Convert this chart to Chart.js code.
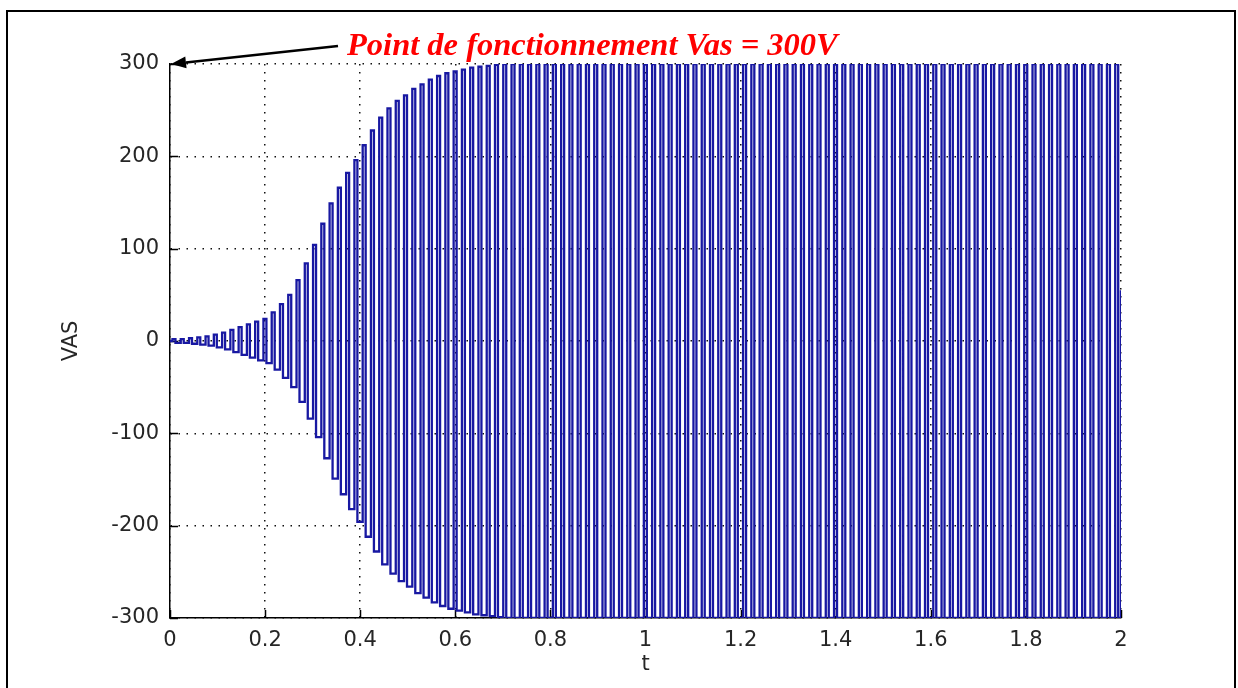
<!DOCTYPE html>
<html>
<head>
<meta charset="utf-8">
<script src="https://cdn.jsdelivr.net/npm/chart.js@4.4.1/dist/chart.umd.min.js"></script>
<style>
  html, body { margin: 0; padding: 0; background: #fff; overflow: hidden; }
  #wrap { position: relative; width: 1238px; height: 688px; }
  #plot { position: absolute; left: 0; top: 0; }
  #frame { position: absolute; left: 6px; top: 10px; width: 1230px; height: 700px;
           border: 2px solid #000; box-sizing: border-box; pointer-events: none; }
</style>
</head>
<body>
<div id="wrap">
  <canvas id="plot" width="1238" height="688"></canvas>
  <div id="frame"></div>
</div>
<script>
// Stator voltage VAS: crest amplitude of each oscillation cycle over 0..2 s
const cycleAmplitude = [
  2, 2, 3, 4, 5, 7, 9, 12, 15, 18,
  21, 24, 31, 40, 50, 66, 84, 104, 127, 149,
  166, 182, 196, 212, 228, 242, 252, 260, 266, 273,
  278, 283, 287, 290, 292, 294, 296, 297, 298, 299,
  300, 300, 300, 300, 300, 300, 300, 300, 300, 300,
  300, 300, 300, 300, 300, 300, 300, 300, 300, 300,
  300, 300, 300, 300, 300, 300, 300, 300, 300, 300,
  300, 300, 300, 300, 300, 300, 300, 300, 300, 300,
  300, 300, 300, 300, 300, 300, 300, 300, 300, 300,
  300, 300, 300, 300, 300, 300, 300, 300, 300, 300,
  300, 300, 300, 300, 300, 300, 300, 300, 300, 300,
  300, 300, 300, 300, 300
];
const startValue = 0;      // VAS at t = 0
const finalValue = 55;     // VAS at t = 2 s
const tStart = 0;
const tEnd = 2;
// switching instants inside one cycle (fraction of the cycle)
const riseAt = 0.30;
const fallAt = 0.66;

const xTicks = [0, 0.2, 0.4, 0.6, 0.8, 1, 1.2, 1.4, 1.6, 1.8, 2];
const xTickLabels = ['0', '0.2', '0.4', '0.6', '0.8', '1', '1.2', '1.4', '1.6', '1.8', '2'];
const yTicks = [-300, -200, -100, 0, 100, 200, 300];
const yTickLabels = ['-300', '-200', '-100', '0', '100', '200', '300'];

const xTitle = 't';
const yTitle = 'VAS';
const noteText = 'Point de fonctionnement Vas = 300V';
const notePoint = { x: 0, y: 300 };

// Held samples: positive crest then negative crest in every cycle
const cycleLength = (tEnd - tStart) / cycleAmplitude.length;
const samples = [{ x: tStart, y: startValue }];
cycleAmplitude.forEach((a, k) => {
  samples.push({ x: tStart + (k + riseAt) * cycleLength, y: a });
  samples.push({ x: tStart + (k + fallAt) * cycleLength, y: -a });
});
samples.push({ x: tEnd, y: finalValue });

const tickFont = { family: '"DejaVu Sans", sans-serif', size: 21 };
const inkColor = '#262626';

const decorations = {
  id: 'decorations',
  beforeDatasetsDraw(chart) {
    // inward tick marks on the left and bottom axes
    const { ctx, chartArea: a, scales: { x, y } } = chart;
    ctx.save();
    ctx.strokeStyle = '#000';
    ctx.lineWidth = 1.5;
    ctx.beginPath();
    xTicks.forEach(v => {
      const px = Math.round(x.getPixelForValue(v)) + 0.5;
      ctx.moveTo(px, a.bottom);
      ctx.lineTo(px, a.bottom - 8);
    });
    yTicks.forEach(v => {
      const py = Math.round(y.getPixelForValue(v)) + 0.5;
      ctx.moveTo(a.left, py);
      ctx.lineTo(a.left + 8, py);
    });
    ctx.stroke();
    ctx.restore();
  },
  afterDraw(chart) {
    const { ctx, chartArea: a, scales: { x, y } } = chart;
    ctx.save();
    // axis titles
    ctx.fillStyle = inkColor;
    ctx.font = '21px "DejaVu Sans", sans-serif';
    ctx.textAlign = 'center';
    ctx.textBaseline = 'middle';
    ctx.fillText(xTitle, (a.left + a.right) / 2, 665);
    ctx.translate(72, (a.top + a.bottom) / 2);
    ctx.rotate(-Math.PI / 2);
    ctx.fillText(yTitle, 0, 0);
    ctx.restore();

    // operating point note with arrow
    ctx.save();
    const tipX = x.getPixelForValue(notePoint.x) + 1;
    const tipY = y.getPixelForValue(notePoint.y);
    const tailX = 338, tailY = 46;
    const ang = Math.atan2(tipY - tailY, tipX - tailX);
    const headLen = 15, headHalf = 6;
    const baseX = tipX - headLen * Math.cos(ang);
    const baseY = tipY - headLen * Math.sin(ang);
    ctx.strokeStyle = '#000';
    ctx.fillStyle = '#000';
    ctx.lineWidth = 2.5;
    ctx.beginPath();
    ctx.moveTo(tailX, tailY);
    ctx.lineTo(baseX, baseY);
    ctx.stroke();
    ctx.beginPath();
    ctx.moveTo(tipX, tipY);
    ctx.lineTo(baseX + headHalf * Math.sin(ang), baseY - headHalf * Math.cos(ang));
    ctx.lineTo(baseX - headHalf * Math.sin(ang), baseY + headHalf * Math.cos(ang));
    ctx.closePath();
    ctx.fill();

    ctx.fillStyle = '#ff0000';
    ctx.font = 'italic bold 32.5px "Liberation Serif", "Times New Roman", serif';
    ctx.textAlign = 'left';
    ctx.textBaseline = 'alphabetic';
    ctx.fillText(noteText, 347, 55);
    ctx.restore();
  }
};

new Chart(document.getElementById('plot'), {
  type: 'line',
  data: {
    datasets: [{
      data: samples,
      borderColor: '#1818a2',
      borderWidth: 2.3,
      pointRadius: 0,
      stepped: true,
      fill: false
    }]
  },
  options: {
    responsive: false,
    animation: false,
    events: [],
    layout: { padding: { left: 0, top: 64, right: 117, bottom: 0 } },
    plugins: { legend: { display: false }, tooltip: { enabled: false } },
    scales: {
      x: {
        type: 'linear',
        min: tStart,
        max: tEnd,
        afterBuildTicks: s => { s.ticks = xTicks.map(v => ({ value: v })); },
        afterFit: s => { s.height = 70; },
        ticks: {
          autoSkip: false, maxRotation: 0, padding: 10,
          color: inkColor, font: tickFont,
          callback: (v, i) => xTickLabels[i]
        },
        grid: { color: '#111', lineWidth: 1.5, drawTicks: false },
        border: { display: true, color: '#000', width: 1.5, dash: [1.5, 6.5] }
      },
      y: {
        type: 'linear',
        min: yTicks[0],
        max: yTicks[yTicks.length - 1],
        afterBuildTicks: s => { s.ticks = yTicks.map(v => ({ value: v })); },
        afterFit: s => { s.width = 170; },
        ticks: {
          autoSkip: false, padding: 11,
          color: inkColor, font: tickFont,
          callback: (v, i) => yTickLabels[i]
        },
        grid: { color: '#111', lineWidth: 1.5, drawTicks: false },
        border: { display: true, color: '#000', width: 1.5, dash: [1.5, 6.5] }
      }
    }
  },
  plugins: [decorations]
});
</script>
</body>
</html>
